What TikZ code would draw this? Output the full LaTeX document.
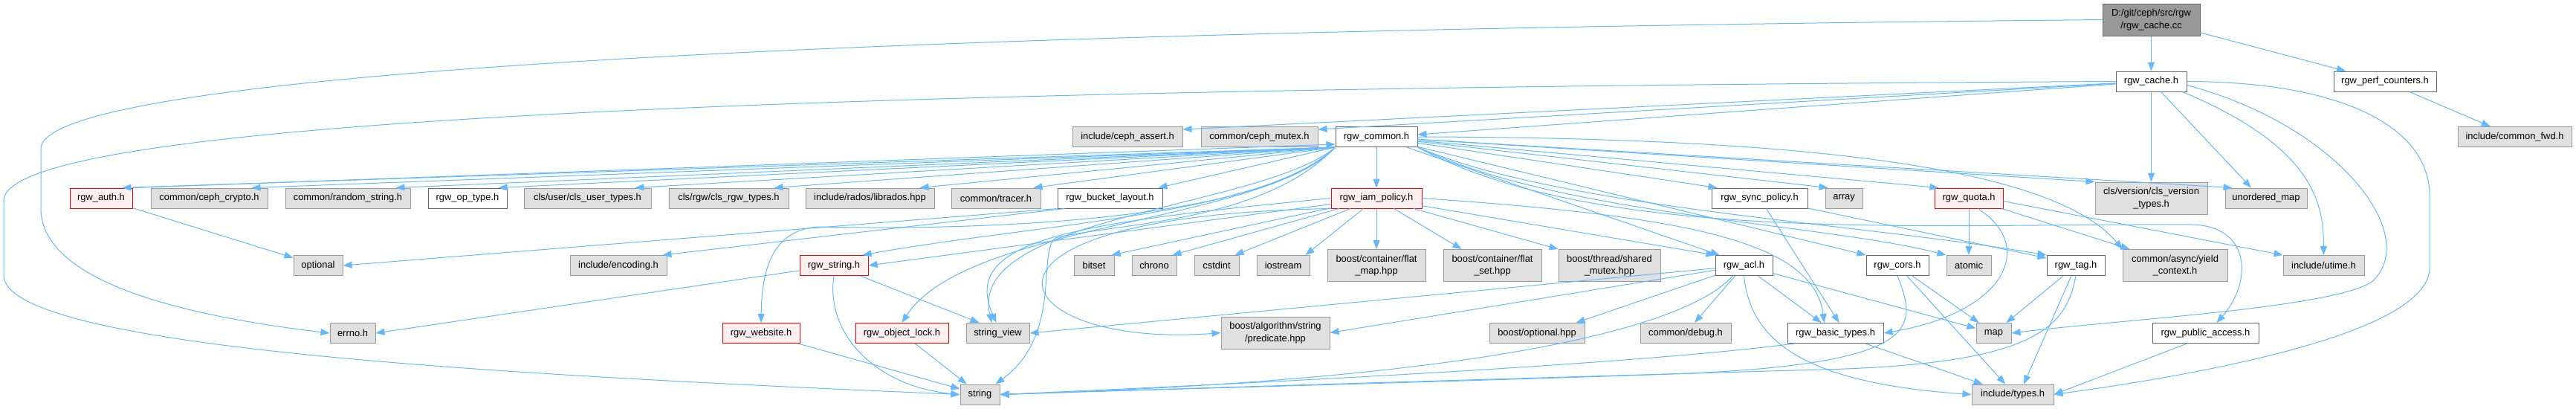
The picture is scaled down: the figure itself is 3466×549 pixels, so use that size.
\documentclass[tikz,border=0pt]{standalone}
\usepackage{fontspec}
\setmainfont{Liberation Sans}
\usetikzlibrary{arrows.meta}
\definecolor{edgec}{HTML}{63B8FF}
\definecolor{extfill}{HTML}{E0E0E0}
\definecolor{extdraw}{HTML}{999999}
\definecolor{whtdraw}{HTML}{666666}
\definecolor{redfill}{HTML}{FFF0F0}
\definecolor{reddraw}{HTML}{FF0000}
\definecolor{rootfill}{HTML}{999999}
\definecolor{rootdraw}{HTML}{666666}
\newcommand{\dxf}{\fontsize{12.9}{16.5}\selectfont}
\tikzset{
  base/.style={rectangle, inner sep=0pt, line width=1pt, minimum height=27pt, align=center, font=\dxf, text=black},
  ext/.style={base, fill=extfill, draw=extdraw},
  wht/.style={base, fill=white, draw=whtdraw},
  trunc/.style={base, fill=redfill, draw=reddraw},
  rootn/.style={base, fill=rootfill, draw=rootdraw},
  two/.style={minimum height=43pt},
  ed/.style={draw=edgec, line width=1pt, -{Triangle[length=12pt,width=9pt]}}
}
\begin{document}
\begin{tikzpicture}[x=1pt,y=-1pt]
\useasboundingbox (0,0) rectangle (3466,549);
% row 0/1/2
\node[rootn,two,minimum width=131pt] (root) at (2894.5,26.5) {D:/git/ceph/src/rgw\\/rgw\_cache.cc};
\node[wht,minimum width=95pt] (cache) at (2894.5,109.5) {rgw\_cache.h};
\node[wht,minimum width=138pt] (perf) at (3209,109.5) {rgw\_perf\_counters.h};
\node[ext,minimum width=148pt] (assert) at (1517,184) {include/ceph\_assert.h};
\node[ext,minimum width=157pt] (mutex) at (1694.5,184) {common/ceph\_mutex.h};
\node[wht,minimum width=110pt] (rc) at (1852,184) {rgw\_common.h};
\node[ext,minimum width=153pt] (cfwd) at (3383.5,184) {include/common\_fwd.h};
% row 3
\node[trunc,minimum width=84pt] (auth) at (136,266.5) {rgw\_auth.h};
\node[ext,minimum width=157pt] (crypto) at (281.5,266.5) {common/ceph\_crypto.h};
\node[ext,minimum width=168pt] (random) at (468,266.5) {common/random\_string.h};
\node[wht,minimum width=106pt] (optype) at (629,266.5) {rgw\_op\_type.h};
\node[ext,minimum width=171pt] (clsuser) at (790.5,266.5) {cls/user/cls\_user\_types.h};
\node[ext,minimum width=161pt] (clsrgw) at (980.5,266.5) {cls/rgw/cls\_rgw\_types.h};
\node[ext,minimum width=173pt] (rados) at (1170.5,266.5) {include/rados/librados.hpp};
\node[ext,minimum width=120pt] (tracer) at (1340,266.5) {common/tracer.h};
\node[wht,minimum width=141pt] (bucket) at (1493.5,266.5) {rgw\_bucket\_layout.h};
\node[trunc,minimum width=122pt] (iam) at (1852,266.5) {rgw\_iam\_policy.h};
\node[wht,minimum width=129pt] (sync) at (2367.5,266.5) {rgw\_sync\_policy.h};
\node[ext,minimum width=50pt] (array) at (2481,266.5) {array};
\node[trunc,minimum width=92pt] (quota) at (2649,266.5) {rgw\_quota.h};
\node[ext,two,minimum width=151pt] (clsver) at (2894.5,266.5) {cls/version/cls\_version\\\_types.h};
\node[ext,minimum width=110pt] (umap) at (3049,266.5) {unordered\_map};
% row 4
\node[ext,minimum width=66pt] (optional) at (428,357) {optional};
\node[ext,minimum width=130pt] (encoding) at (832,357) {include/encoding.h};
\node[trunc,minimum width=92pt] (rstring) at (1122,357) {rgw\_string.h};
\node[ext,minimum width=54pt] (bitset) at (1472,357) {bitset};
\node[ext,minimum width=60pt] (chrono) at (1553,357) {chrono};
\node[ext,minimum width=60pt] (cstdint) at (1637,357) {cstdint};
\node[ext,minimum width=71pt] (iostream) at (1726.5,357) {iostream};
\node[ext,two,minimum width=132pt] (flatmap) at (1852,357) {boost/container/flat\\\_map.hpp};
\node[ext,two,minimum width=132pt] (flatset) at (2008,357) {boost/container/flat\\\_set.hpp};
\node[ext,two,minimum width=137pt] (shmutex) at (2165.5,357) {boost/thread/shared\\\_mutex.hpp};
\node[wht,minimum width=77pt] (acl) at (2346.5,357) {rgw\_acl.h};
\node[wht,minimum width=84pt] (cors) at (2553,357) {rgw\_cors.h};
\node[ext,minimum width=60pt] (atomic) at (2649,357) {atomic};
\node[wht,minimum width=78pt] (tag) at (2793,357) {rgw\_tag.h};
\node[ext,two,minimum width=141pt] (yield) at (2926.5,357) {common/async/yield\\\_context.h};
\node[ext,minimum width=109pt] (utime) at (3126.5,357) {include/utime.h};
% row 5
\node[ext,minimum width=61pt] (errno) at (474.5,448) {errno.h};
\node[trunc,minimum width=104pt] (website) at (1024,448) {rgw\_website.h};
\node[trunc,minimum width=125pt] (olock) at (1213.5,448) {rgw\_object\_lock.h};
\node[ext,minimum width=85pt] (sview) at (1342.5,448) {string\_view};
\node[ext,two,minimum width=146pt] (pred) at (1716,447.5) {boost/algorithm/string\\/predicate.hpp};
\node[ext,minimum width=128pt] (bopt) at (2068,448) {boost/optional.hpp};
\node[ext,minimum width=122pt] (debug) at (2268,448) {common/debug.h};
\node[wht,minimum width=129pt] (basic) at (2469.5,448) {rgw\_basic\_types.h};
\node[ext,minimum width=47pt] (map) at (2682.5,448) {map};
\node[wht,minimum width=143pt] (pubacc) at (2967.5,448) {rgw\_public\_access.h};
% row 6
\node[ext,minimum width=53pt] (string) at (1318.5,530.5) {string};
\node[ext,minimum width=110pt] (types) at (2708,530.5) {include/types.h};

% ---- edges: root
\draw[ed] (root) -- (cache);
\draw[ed] (root) -- (perf);
\draw[ed] (root.west) .. controls (900,45) and (55,110) .. (55,200) -- (55,280) .. controls (55,380) and (250,425) .. (errno.west);
\draw[ed] (perf) -- (cfwd);
% ---- rgw_cache.h
\draw[ed] (cache.west) .. controls (900,120) and (5,170) .. (5,270) -- (5,370) .. controls (5,470) and (700,505) .. (string.west);
\draw[ed] (cache) -- ([yshift=-4pt]assert.north east);
\draw[ed] (cache) -- ([yshift=-4pt]mutex.north east);
\draw[ed] (cache) -- ([yshift=3pt]rc.east);
\draw[ed] (cache) -- (clsver);
\draw[ed] (cache) -- ([xshift=-20pt]umap.north);
\draw[ed] ([xshift=-6pt]cache.south east) .. controls (3120,200) and (3126,280) .. (utime.north);
\draw[ed] ([yshift=-5pt]cache.east) .. controls (3150,170) and (3260,320) .. (3190,380) .. controls (3130,415) and (2850,430) .. (map.east);
\draw[ed] (cache.east) .. controls (3150,110) and (3269,170) .. (3269,263) -- (3269,360) .. controls (3269,450) and (2950,505) .. (types.east);
% ---- rgw_common.h to row 3
\draw[ed] (rc.south west) -- ([xshift=-14pt]auth.north east);
\draw[ed] (rc.south west) -- ([xshift=-22pt]crypto.north east);
\draw[ed] (rc.south west) -- ([xshift=-20pt]random.north east);
\draw[ed] (rc.south west) -- ([xshift=-12pt]optype.north east);
\draw[ed] (rc.south west) -- ([xshift=-22pt]clsuser.north east);
\draw[ed] (rc.south west) -- ([xshift=-20pt]clsrgw.north east);
\draw[ed] (rc.south west) -- ([xshift=-20pt]rados.north east);
\draw[ed] (rc.south west) -- ([xshift=-10pt]tracer.north east);
\draw[ed] (rc.south west) -- ([xshift=-6pt]bucket.north east);
\draw[ed] (rc) -- (iam);
\draw[ed] (rc) -- ([xshift=8pt]sync.north west);
\draw[ed] (rc) -- ([xshift=4pt]array.north west);
\draw[ed] (rc) -- ([xshift=6pt]quota.north west);
\draw[ed] (rc) -- (clsver.north west);
\draw[ed] (rc) -- ([xshift=10pt]umap.north west);
% ---- rgw_common.h to lower rows
\draw[ed] (rc) -- ([xshift=6pt]acl.north west);
\draw[ed] (rc) -- (cors.north west);
\draw[ed] (rc.south east) .. controls (2100,290) and (2450,300) .. (atomic.north west);
\draw[ed] (rc.south east) .. controls (2100,280) and (2500,300) .. (tag.north west);
\draw[ed] (rc.east) .. controls (2400,185) and (2760,220) .. (yield.north west);
\draw[ed] (rc.south east) .. controls (2150,330) and (2600,300) .. (2950,302) .. controls (3030,305) and (3030,380) .. ([xshift=15pt]pubacc.north);
\draw[ed] (rc.south west) .. controls (1700,290) and (1400,300) .. ([xshift=-8pt]rstring.north east);
\draw[ed] (rc.south west) .. controls (1700,300) and (1300,310) .. (1100,305) .. controls (1040,310) and (1025,360) .. (website.north);
\draw[ed] (rc.south west) .. controls (1700,300) and (1300,300) .. (olock.north);
\draw[ed] (rc.south west) .. controls (1700,280) and (1300,290) .. ([xshift=-8pt]sview.north);
\draw[ed] (rc.south west) .. controls (1700,300) and (1500,300) .. (1420,320) .. controls (1395,340) and (1430,450) .. ([xshift=-6pt]string.north east);
% ---- rgw_iam_policy.h
\draw[ed] (iam) -- (flatmap);
\draw[ed] (iam) -- ([xshift=25pt]flatset.north west);
\draw[ed] (iam) -- (shmutex.north west);
\draw[ed] (iam) -- ([xshift=-6pt]iostream.north east);
\draw[ed] (iam) -- ([xshift=-6pt]cstdint.north east);
\draw[ed] (iam) -- ([xshift=-6pt]chrono.north east);
\draw[ed] (iam) -- ([xshift=-4pt]bitset.north east);
\draw[ed] (iam) -- (rstring.east);
\draw[ed] (iam) -- (acl.north west);
\draw[ed] (iam.west) .. controls (1450,300) and (1290,320) .. ([xshift=-2pt]sview.north);
\draw[ed] (iam.south west) .. controls (1250,290) and (1350,470) .. (pred.west);
\draw[ed] (iam.east) .. controls (2250,290) and (2440,320) .. ([xshift=-15pt]basic.north);
% ---- rgw_acl.h
\draw[ed] (acl) -- (map);
\draw[ed] (acl) -- (basic);
\draw[ed] (acl) -- (debug);
\draw[ed] (acl) -- ([xshift=-12pt]bopt.north east);
\draw[ed] (acl) -- (pred.east);
\draw[ed] (acl) -- (sview.east);
\draw[ed] (acl.south) .. controls (2355,460) and (2430,515) .. (types.west);
\draw[ed] ([xshift=-15pt]acl.south) .. controls (2270,440) and (2000,510) .. (string.east);
% ---- rgw_cors.h
\draw[ed] (cors) -- (map);
\draw[ed] (cors) -- ([xshift=-10pt]types.north);
\draw[ed] (cors.south) .. controls (2580,440) and (2590,490) .. (2250,503) .. controls (1900,515) and (1500,525) .. (string.east);
% ---- rgw_tag.h
\draw[ed] (tag) -- (map);
\draw[ed] (tag) -- ([xshift=15pt]types.north);
\draw[ed] (tag.south) .. controls (2780,440) and (2740,490) .. (2450,497) .. controls (2000,510) and (1600,522) .. (string.east);
% ---- rgw_basic_types.h
\draw[ed] (basic) -- (types);
\draw[ed] ([xshift=10pt]basic.south west) .. controls (2200,490) and (1700,515) .. (string.east);
% ---- rgw_quota.h
\draw[ed] (quota) -- (atomic);
\draw[ed] ([xshift=12pt]quota.south) .. controls (2740,330) and (2700,420) .. (basic.east);
\draw[ed] (quota) -- ([xshift=10pt]yield.north west);
\draw[ed] ([yshift=-4pt]quota.east) -- (utime.north west);
% ---- rgw_sync_policy.h
\draw[ed] (sync) -- ([xshift=5pt]basic.north);
\draw[ed] (sync) -- ([yshift=-4pt]tag.north west);
% ---- rgw_auth.h
\draw[ed] (auth) -- (optional);
\draw[ed] (auth.north east) -- ([yshift=4pt]rc.south west);
% ---- rgw_bucket_layout.h
\draw[ed] (bucket.south west) -- (optional.east);
\draw[ed] ([xshift=10pt]bucket.south west) -- ([xshift=-6pt]encoding.north east);
% ---- rgw_string.h
\draw[ed] (rstring) -- (errno.east);
\draw[ed] (rstring) -- ([xshift=-25pt]sview.north);
\draw[ed] (rstring.south) .. controls (1110,450) and (1180,520) .. (string.west);
% ---- others
\draw[ed] (website) -- (string);
\draw[ed] (olock) -- (string);
\draw[ed] ([xshift=-25pt]pubacc.south) -- (types.east);
\end{tikzpicture}
\end{document}
